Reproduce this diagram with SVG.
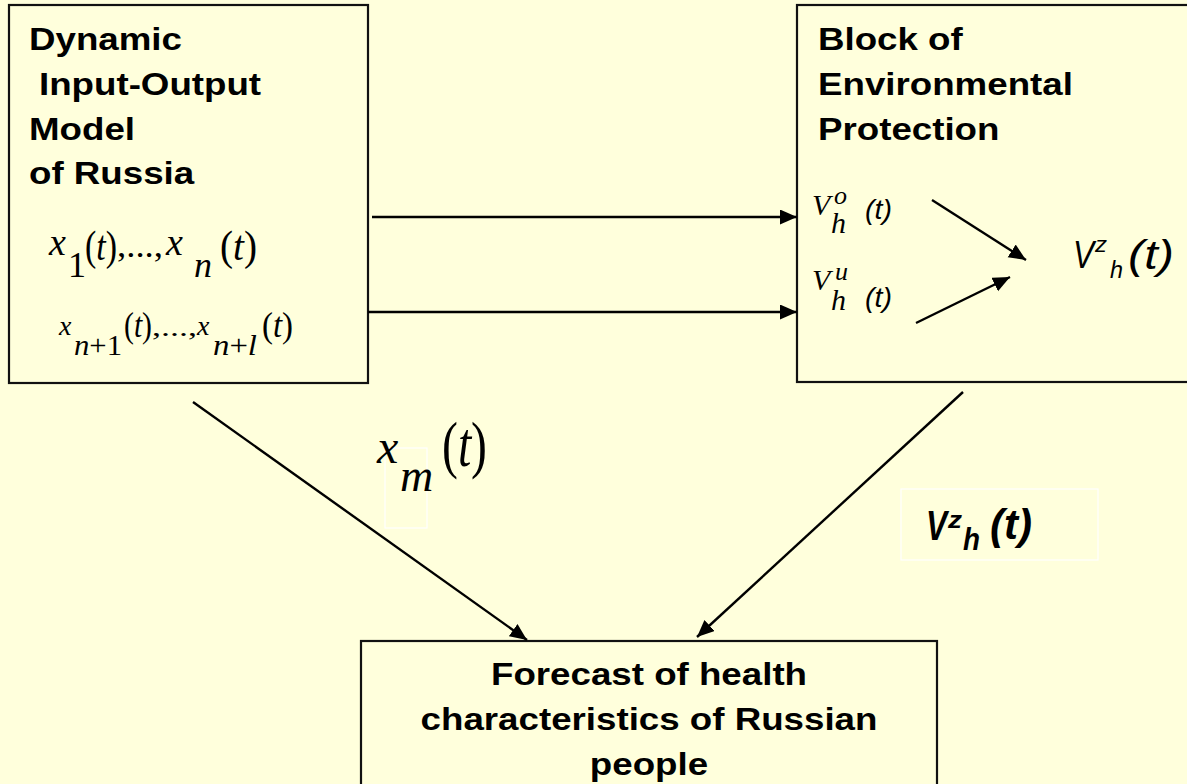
<svg xmlns="http://www.w3.org/2000/svg" width="1187" height="784" viewBox="0 0 1187 784">
  <style>
    .box { fill: #FFFFDC; stroke: #111; stroke-width: 2.2; }
    .lbl { font-family: "Liberation Sans", Arial, sans-serif; font-weight: bold; font-size: 32px; fill: #000; }
    .m { font-family: "Liberation Serif", "Times New Roman", serif; fill: #000; }
    .i { font-style: italic; }
    .a { font-family: "Liberation Sans", Arial, sans-serif; font-style: italic; fill: #000; }
    .sa { font-family: "Liberation Sans", Arial, sans-serif; font-style: italic; }
    .conn { stroke: #000; stroke-width: 2.4; fill: none; marker-end: url(#arr); }
    .wbox { fill: none; stroke: #FFFFFF; stroke-width: 1.2; }
  </style>
  <defs>
    <marker id="arr" markerUnits="userSpaceOnUse" markerWidth="18" markerHeight="16" refX="17" refY="7.5" orient="auto">
      <path d="M0,0 L17,7.5 L0,15 z" fill="#000"/>
    </marker>
  </defs>
  <rect x="0" y="0" width="1187" height="784" fill="#FFFFDC"/>

  <g id="node-io-model">
    <rect class="box" x="9" y="5" width="359" height="378"/>
    <text class="lbl" transform="translate(29,50) scale(1.147,1)">Dynamic</text>
    <text class="lbl" transform="translate(39,95) scale(1.147,1)">Input-Output</text>
    <text class="lbl" transform="translate(29,140) scale(1.147,1)">Model</text>
    <text class="lbl" transform="translate(29,184) scale(1.147,1)">of Russia</text>
    <text class="m"><tspan class="i" x="49" y="255" font-size="38">x</tspan><tspan x="68" y="277" font-size="36">1</tspan><tspan x="85" y="260" font-size="42" textLength="32" lengthAdjust="spacingAndGlyphs">(<tspan class="i">t</tspan>)</tspan><tspan x="117" y="257" font-size="34" textLength="46" lengthAdjust="spacingAndGlyphs">,...,</tspan><tspan class="i" x="166" y="255" font-size="38">x</tspan><tspan class="i" x="194" y="277" font-size="36">n</tspan><tspan x="220" y="260" font-size="42" textLength="37" lengthAdjust="spacingAndGlyphs">(<tspan class="i">t</tspan>)</tspan></text>
    <text class="m"><tspan class="i" x="59" y="335" font-size="28">x</tspan><tspan x="74" y="355" font-size="29" textLength="48" lengthAdjust="spacingAndGlyphs"><tspan class="i">n</tspan>+1</tspan><tspan x="124" y="337" font-size="35" textLength="28" lengthAdjust="spacingAndGlyphs">(<tspan class="i">t</tspan>)</tspan><tspan x="152" y="336" font-size="26" textLength="45" lengthAdjust="spacingAndGlyphs">,...,</tspan><tspan class="i" x="197" y="335" font-size="28">x</tspan><tspan x="213" y="355" font-size="29" textLength="44" lengthAdjust="spacingAndGlyphs"><tspan class="i">n</tspan>+<tspan class="i">l</tspan></tspan><tspan x="262" y="337" font-size="35" textLength="31" lengthAdjust="spacingAndGlyphs">(<tspan class="i">t</tspan>)</tspan></text>
  </g>

  <g id="node-env-block">
    <rect class="box" x="797" y="5" width="400" height="377"/>
    <text class="lbl" transform="translate(818,50) scale(1.147,1)">Block of</text>
    <text class="lbl" transform="translate(818,95) scale(1.147,1)">Environmental</text>
    <text class="lbl" transform="translate(818,140) scale(1.147,1)">Protection</text>
    <text class="m"><tspan class="i" x="812" y="215" font-size="30">V</tspan><tspan class="i" x="834" y="204" font-size="26">o</tspan><tspan class="i" x="831" y="233" font-size="30">h</tspan><tspan class="sa" x="865" y="219" font-size="28" textLength="27" lengthAdjust="spacingAndGlyphs">(t)</tspan></text>
    <text class="m"><tspan class="i" x="812" y="290" font-size="30">V</tspan><tspan class="i" x="835" y="280" font-size="26">u</tspan><tspan class="i" x="831" y="310" font-size="30">h</tspan><tspan class="sa" x="865" y="307" font-size="28" textLength="27" lengthAdjust="spacingAndGlyphs">(t)</tspan></text>
    <text class="a"><tspan x="1073" y="268" font-size="38" textLength="21" lengthAdjust="spacingAndGlyphs">V</tspan><tspan x="1095" y="252" font-size="22" textLength="12" lengthAdjust="spacingAndGlyphs">z</tspan><tspan x="1110" y="278" font-size="24" textLength="13" lengthAdjust="spacingAndGlyphs">h</tspan><tspan x="1128" y="269" font-size="40" textLength="46" lengthAdjust="spacingAndGlyphs">(t)</tspan></text>
  </g>

  <g id="node-forecast">
    <rect class="box" x="361" y="641" width="576" height="160"/>
    <text class="lbl" text-anchor="middle" transform="translate(649,685) scale(1.147,1)">Forecast of health</text>
    <text class="lbl" text-anchor="middle" transform="translate(649,730) scale(1.147,1)">characteristics of Russian</text>
    <text class="lbl" text-anchor="middle" transform="translate(649,775) scale(1.147,1)">people</text>
  </g>

  <g id="connectors">
    <line class="conn" x1="372" y1="217" x2="797" y2="217"/>
    <line class="conn" x1="368" y1="312" x2="797" y2="312"/>
    <line class="conn" x1="932" y1="200" x2="1026" y2="260"/>
    <line class="conn" x1="916" y1="323" x2="1010" y2="277"/>
    <line class="conn" x1="193" y1="402" x2="527" y2="640"/>
    <line class="conn" x1="963" y1="392" x2="697" y2="637"/>
  </g>

  <g id="label-xm">
    <rect class="wbox" x="385" y="448" width="42" height="80"/>
    <text class="m"><tspan class="i" x="377" y="463" font-size="48">x</tspan><tspan class="i" x="400" y="491" font-size="46">m</tspan><tspan x="442" y="466" font-size="64" textLength="45" lengthAdjust="spacingAndGlyphs">(<tspan class="i">t</tspan>)</tspan></text>
  </g>

  <g id="label-vz">
    <rect class="wbox" x="901" y="489" width="197" height="71"/>
    <text class="a" font-weight="bold"><tspan x="926" y="540" font-size="42" textLength="21" lengthAdjust="spacingAndGlyphs">V</tspan><tspan x="948" y="528" font-size="24" textLength="14" lengthAdjust="spacingAndGlyphs">z</tspan><tspan x="963" y="550" font-size="32" textLength="17" lengthAdjust="spacingAndGlyphs">h</tspan><tspan x="990" y="539" font-size="42" textLength="42" lengthAdjust="spacingAndGlyphs">(t)</tspan></text>
  </g>
</svg>
